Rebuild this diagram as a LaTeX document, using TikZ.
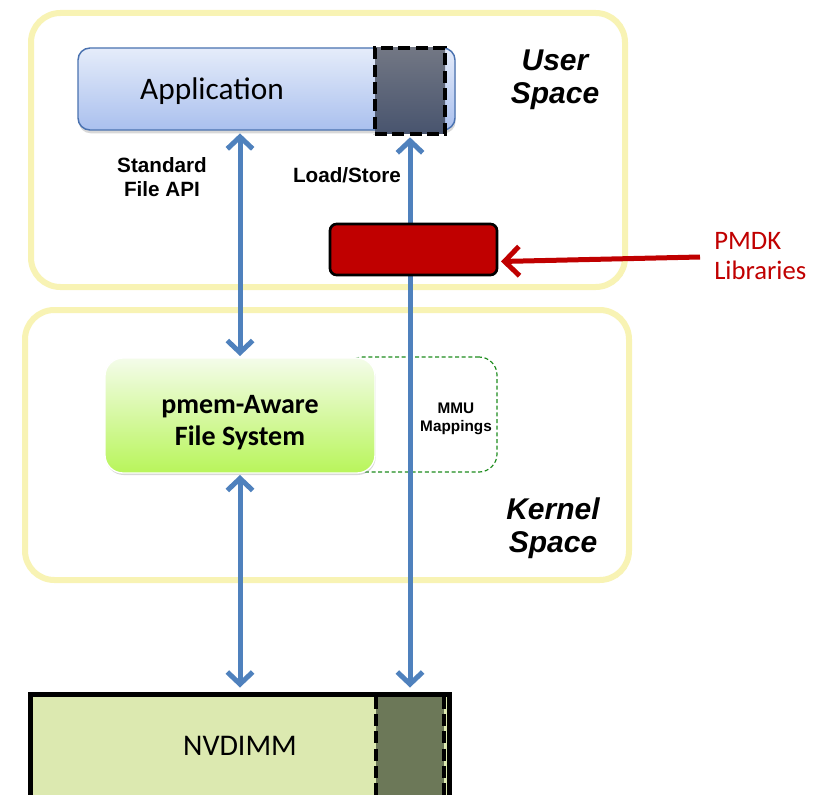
\documentclass[tikz,border=0pt]{standalone}
\usepackage{fontspec}
\setmainfont{Carlito}
\newfontfamily\arialf{Liberation Sans}
\usetikzlibrary{arrows.meta,shadows,calc}
\definecolor{panelY}{RGB}{248,243,180}
\definecolor{appTop}{RGB}{229,236,250}
\definecolor{appBot}{RGB}{170,192,238}
\definecolor{appEdge}{RGB}{74,114,176}
\definecolor{sqTop}{RGB}{114,119,132}
\definecolor{sqBot}{RGB}{72,84,110}
\definecolor{arrowblue}{RGB}{79,129,189}
\definecolor{pmdkred}{RGB}{192,0,0}
\definecolor{fsTop}{RGB}{244,252,234}
\definecolor{fsBot}{RGB}{184,245,90}
\definecolor{mmugreen}{RGB}{30,140,30}
\definecolor{nvfill}{RGB}{220,233,176}
\definecolor{nvdark}{RGB}{108,120,88}
\tikzset{
  panel/.style={draw=panelY, line width=4.5pt, fill=white, rounded corners=22pt, inner sep=0pt,
     drop shadow={shadow xshift=1.5pt, shadow yshift=-1.5pt, opacity=0.15}},
  spacelabel/.style={font=\arialf\bfseries\itshape\fontsize{22.5}{25}\selectfont, align=center, inner sep=0pt},
  smalllabel/.style={font=\arialf\bfseries\fontsize{15.5}{18}\selectfont, align=center, inner sep=0pt},
  barrow/.style={draw=arrowblue, line width=3.75pt,
     {Straight Barb[length=9pt,width=19pt]}-{Straight Barb[length=9pt,width=19pt]}},
  dashblack/.style={draw=black, line width=3pt, dash pattern=on 9pt off 4pt},
}
\begin{document}
\begin{tikzpicture}[x=0.75pt,y=0.75pt]
\useasboundingbox (0,0) rectangle (813,-795);

% panels
\node[panel, minimum width=445.5pt, minimum height=205.5pt] (user) at (328,-150) {};
\node[panel, minimum width=453pt, minimum height=202.5pt] (kernel) at (327,-445) {};

\node[spacelabel] (userlbl) at (555,-80) {User\\Space};
\node[spacelabel] (kernellbl) at (553,-528) {Kernel\\Space};

% application
\node[draw=appEdge, line width=1.1pt, rounded corners=9pt, top color=appTop, bottom color=appBot,
      minimum width=282.75pt, minimum height=61.5pt, inner sep=0pt,
      drop shadow={shadow xshift=0.5pt, shadow yshift=-2.5pt, opacity=0.3}] (app) at (266.5,-89) {};
\node[inner sep=0pt, font=\fontsize{23.5}{26}\selectfont] (applbl) at (212,-91) {Application};
\node[dashblack, top color=sqTop, bottom color=sqBot, minimum width=52.5pt, minimum height=64.5pt,
      inner sep=0pt] (appsq) at (410,-91) {};

% MMU mappings
\node[draw=mmugreen, line width=0.9pt, dash pattern=on 3pt off 2pt, rounded corners=13.5pt,
      minimum width=114pt, minimum height=86.25pt, inner sep=0pt] (mmu) at (421,-414.5) {};
\node[inner sep=0pt, align=center, font=\arialf\bfseries\fontsize{11.5}{13.5}\selectfont] (mmulbl) at (456,-419) {MMU\\Mappings};

% file system
\node[draw=white, line width=1pt, rounded corners=13.5pt, top color=fsTop, bottom color=fsBot,
      minimum width=202.5pt, minimum height=86.25pt, inner sep=0pt,
      drop shadow={shadow xshift=0.5pt, shadow yshift=-1.5pt, opacity=0.3}] (fs) at (240,-415.5) {};
\node[inner sep=0pt, align=center, font=\bfseries\fontsize{21}{24}\selectfont] (fslbl) at (240,-423) {pmem-Aware\\File System};

% NVDIMM
\node[draw=black, line width=3.75pt, fill=nvfill, minimum width=314.25pt, minimum height=79.5pt,
      inner sep=0pt] (nv) at (240,-747) {};
\node[fill=nvdark, minimum width=51pt, minimum height=78pt, inner sep=0pt] (nvsq) at (410,-749) {};
\draw[dashblack] (nvsq.north west) -- (nvsq.south west);
\draw[dashblack] (nvsq.north east) -- (nvsq.south east);
\node[inner sep=0pt, font=\fontsize{22.5}{26}\selectfont] (nvlbl) at (240,-746) {NVDIMM};

% labels
\node[smalllabel] (stdapi) at (162,-177) {Standard\\File API};
\node[smalllabel] (ldst) at (347,-175) {Load/Store};

% blue arrows
\draw[barrow] ([yshift=-2pt]fs.north |- app.south) -- ([yshift=1pt]fs.north);
\draw[barrow] ([yshift=-1pt]fs.south) -- ([yshift=3pt]nv.north);
\draw[barrow] ([yshift=-1pt]appsq.south) -- ([yshift=3pt]nv.north -| appsq.south);

% PMDK
\node[draw=black, line width=2pt, fill=pmdkred, rounded corners=5pt, minimum width=125.25pt,
      minimum height=38.25pt, inner sep=0pt] (red) at (413.5,-249.5) {};
\node[anchor=west, inner sep=0pt, align=left, text=pmdkred, font=\fontsize{20}{22}\selectfont] (pmdk) at (714,-256) {PMDK\\Libraries};
\coordinate (pmdkstart) at (700,-257);
\draw[draw=pmdkred, line width=3.75pt, -{Straight Barb[length=11pt,width=22pt]}] (pmdkstart) -- ([xshift=2pt,yshift=-9pt]red.east);
\end{tikzpicture}
\end{document}
